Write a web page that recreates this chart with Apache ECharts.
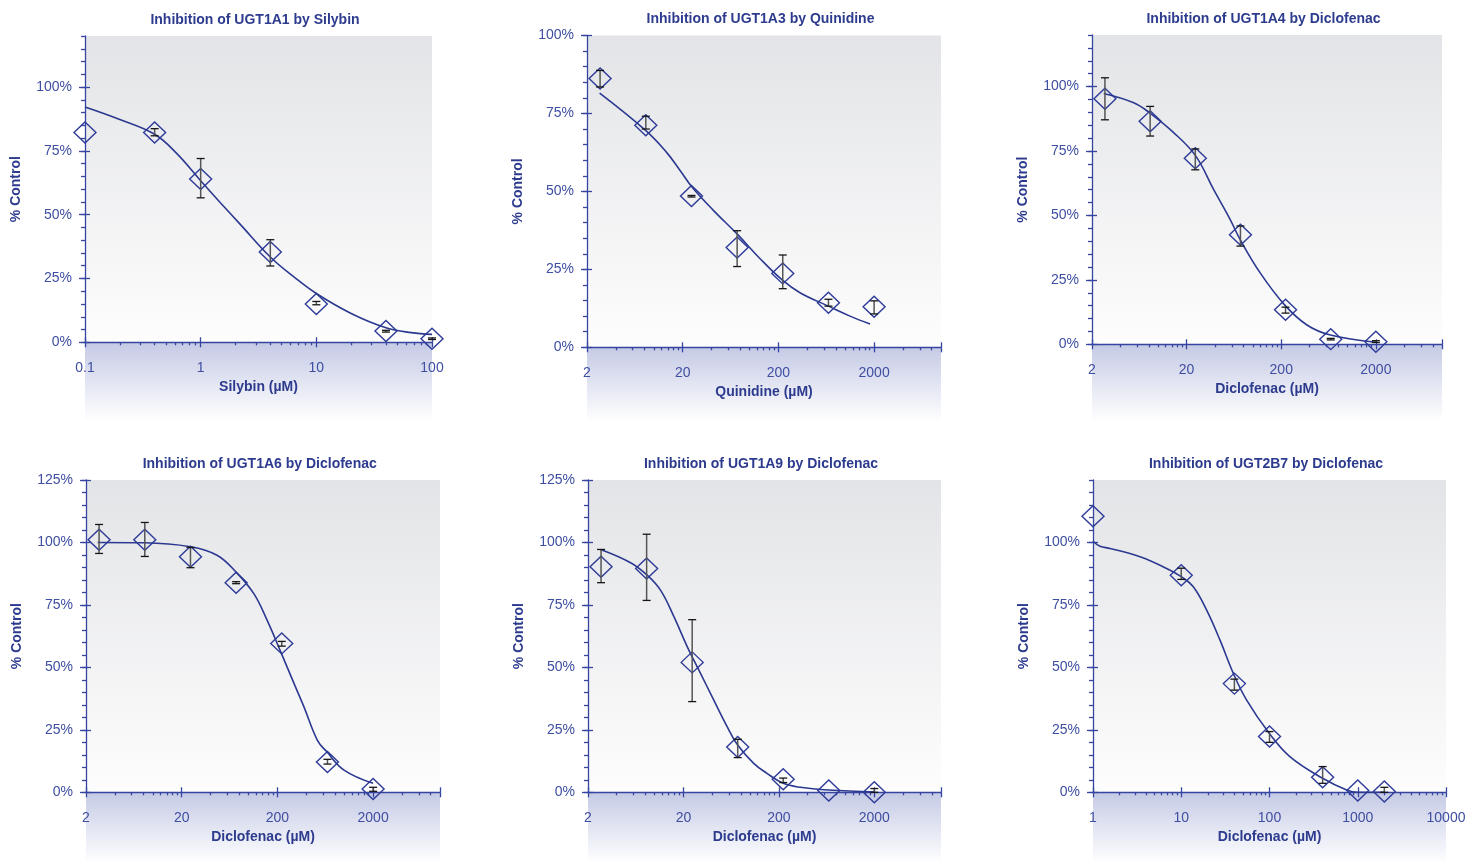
<!DOCTYPE html>
<html><head><meta charset="utf-8">
<script src="https://cdn.jsdelivr.net/npm/echarts@6/dist/echarts.min.js"></script>
<style>html,body{margin:0;padding:0;background:#fff}#c{width:1482px;height:863px}</style>
</head><body><div id="c"></div>
<script>
// ---------------- DATA ----------------
const titles = ['Inhibition of UGT1A1 by Silybin','Inhibition of UGT1A3 by Quinidine','Inhibition of UGT1A4 by Diclofenac',
                'Inhibition of UGT1A6 by Diclofenac','Inhibition of UGT1A9 by Diclofenac','Inhibition of UGT2B7 by Diclofenac'];
const xNames = ['Silybin (µM)','Quinidine (µM)','Diclofenac (µM)','Diclofenac (µM)','Diclofenac (µM)','Diclofenac (µM)'];
const yName = '% Control';

// UGT1A1 / Silybin
const conc1 = [0.1, 0.4, 1, 4, 10, 40, 100];
const mean1 = [82.2, 82.2, 64.0, 35.4, 15.0, 4.4, 1.4];
const lo1   = [null, 80.9, 56.6, 29.9, 14.7, 4.0, 1.1];
const hi1   = [null, 83.7, 72.0, 40.2, 16.0, 4.7, 1.7];
const curveX1 = [0.1, 0.2, 0.4, 0.62, 1, 1.48, 2.2, 4, 6.4, 10, 20, 40, 66, 100];
const curveY1 = [92.2, 87.3, 81.5, 74.0, 63.3, 54.7, 46.2, 33.4, 25.6, 19.1, 11.3, 5.7, 3.8, 3.1];

// UGT1A3 / Quinidine
const conc2 = [2.74, 8.23, 24.7, 74.1, 222, 667, 2000];
const mean2 = [86.2, 71.2, 48.5, 32.0, 23.7, 14.3, 13.0];
const lo2   = [83.5, 70.0, 48.2, 25.9, 18.8, 13.2, 10.7];
const hi2   = [88.8, 74.1, 48.7, 37.4, 29.6, 15.4, 14.9];
const curveX2 = [2.71, 8.3, 13.5, 18.7, 25, 41.6, 74.8, 128, 219, 336, 665, 1120, 1815];
const curveY2 = [81.5, 69.4, 62.6, 56.8, 51.4, 44.0, 36.2, 28.5, 21.6, 17.5, 13.2, 10.0, 7.5];

// UGT1A4 / Diclofenac
const conc3 = [2.74, 8.23, 24.7, 74.1, 222, 667, 2000];
const mean3 = [95.3, 86.5, 72.2, 42.5, 13.4, 2.0, 1.0];
const lo3   = [87.1, 80.8, 67.7, 38.1, 12.1, 1.7, 0.7];
const hi3   = [103.4, 92.3, 75.8, 45.9, 14.4, 2.3, 1.4];
const curveX3 = [2.66, 5.44, 7.94, 14.4, 24.8, 38.4, 57.6, 73.4, 119.8, 217, 374, 661, 2000];
const curveY3 = [97.3, 93.8, 90.1, 82.3, 73.2, 60.2, 48.5, 40.7, 27.7, 15.3, 7.5, 3.6, 0.8];

// UGT1A6 / Diclofenac
const conc4 = [2.74, 8.23, 24.7, 74.1, 222, 667, 2000];
const mean4 = [101.1, 101.1, 94.3, 83.9, 59.6, 12.1, 1.3];
const lo4   = [95.6, 94.4, 89.9, 83.5, 58.5, 11.3, 0.4];
const hi4   = [107.2, 108.0, 98.0, 84.3, 60.4, 13.2, 2.0];
const curveX4 = [2.65, 8.1, 24.8, 46.8, 73.3, 113, 156, 220, 298, 378, 522, 654, 994, 2000];
const curveY4 = [100, 99.9, 98.3, 94.9, 88.3, 79.6, 68.9, 55.6, 43.6, 34.3, 20.9, 16.3, 8.9, 3.6];

// UGT1A9 / Diclofenac
const conc5 = [2.74, 8.23, 24.7, 74.1, 222, 667, 2000];
const mean5 = [90.3, 89.6, 52.0, 18.1, 5.2, 0.7, 0.0];
const lo5   = [83.9, 76.8, 36.3, 13.9, 3.9, null, 0.0];
const hi5   = [97.2, 103.3, 69.1, 21.2, 5.7, null, 1.5];
const curveX5 = [2.71, 5.59, 8.34, 11.5, 15.9, 21.9, 30.2, 41.6, 57.4, 74, 109, 150, 222, 336, 665, 2000];
const curveY5 = [97.2, 91.9, 86.9, 80.9, 70.3, 58.3, 47.6, 36.9, 26.3, 18.9, 11.6, 7.6, 3.6, 2.0, 0.9, 0.1];

// UGT2B7 / Diclofenac
const conc6 = [1, 10, 40, 100, 400, 1000, 2000];
const mean6 = [110.5, 86.9, 43.5, 22.3, 6.0, 0.7, 0.3];
const lo6   = [null, 85.2, 40.9, 20.0, 3.6, null, 0.0];
const hi6   = [null, 89.7, 45.3, 24.3, 10.3, null, 2.0];
const curveX6 = [1, 1.2, 1.56, 3.41, 6.84, 10, 13.7, 19.4, 27.5, 38.9, 55.1, 99.3, 170, 400, 749, 1000, 2000];
const curveY6 = [100.5, 98.5, 97.6, 94.3, 89.6, 86.3, 82.3, 72.9, 60.9, 47.6, 36.9, 23.6, 14.3, 5.6, 0.9, 0.0, 0.0];

// tick values / labels
const xMajorDec1 = [0.1, 1, 10, 100];
const xMinorDec1 = [0.2,0.3,0.4,0.5,0.6,0.7,0.8,0.9,2,3,4,5,6,7,8,9,20,30,40,50,60,70,80,90];
const xMajor2k = [2, 20, 200, 2000, 10000];
const xLabels2k = [2, 20, 200, 2000];
const xMinor2k = [4,6,8,10,12,14,16,18,40,60,80,100,120,140,160,180,400,600,800,1000,1200,1400,1600,1800,4000,6000,8000];
const xMajorDec2 = [1, 10, 100, 1000, 10000];
const xMinorDec2 = [2,3,4,5,6,7,8,9,20,30,40,50,60,70,80,90,200,300,400,500,600,700,800,900,2000,3000,4000,5000,6000,7000,8000,9000];
const yTicks100 = [0, 25, 50, 75, 100];
const yTicks125 = [0, 25, 50, 75, 100, 125];

// ---------------- LAYOUT / STYLE ----------------
const FONT = '"Liberation Sans", Arial, Helvetica, sans-serif';
const AX = '#3646a0', LAB = '#3e4ea1', TTL = '#2d3b8e', CURVE = '#2b3990', DIA = '#2e3c98';

const panels = [
  {left:85,  top:36,   width:347, height:306.3, bandBottom:421, tx:255,   ty:20,  xMin:0.1, xMax:100,   yMax:120, major:xMajorDec1, labels:xMajorDec1, minor:xMinorDec1, yt:yTicks100,
   conc:conc1, mean:mean1, lo:lo1, hi:hi1, cx:curveX1, cy:curveY1},
  {left:587, top:35.5, width:354, height:311.8, bandBottom:421, tx:760.5, ty:19,  xMin:2,   xMax:10000, yMax:100, major:xMajor2k, labels:xLabels2k, minor:xMinor2k, yt:yTicks100,
   conc:conc2, mean:mean2, lo:lo2, hi:hi2, cx:curveX2, cy:curveY2},
  {left:1092,top:35,   width:350, height:309.3, bandBottom:421, tx:1263.5,ty:19,  xMin:2,   xMax:10000, yMax:120, major:xMajor2k, labels:xLabels2k, minor:xMinor2k, yt:yTicks100,
   conc:conc3, mean:mean3, lo:lo3, hi:hi3, cx:curveX3, cy:curveY3},
  {left:86,  top:480,  width:354, height:312.3, bandBottom:863, tx:259.7, ty:464, xMin:2,   xMax:10000, yMax:125, major:xMajor2k, labels:xLabels2k, minor:xMinor2k, yt:yTicks125,
   conc:conc4, mean:mean4, lo:lo4, hi:hi4, cx:curveX4, cy:curveY4},
  {left:588, top:480,  width:353, height:312.3, bandBottom:863, tx:761,   ty:464, xMin:2,   xMax:10000, yMax:125, major:xMajor2k, labels:xLabels2k, minor:xMinor2k, yt:yTicks125,
   conc:conc5, mean:mean5, lo:lo5, hi:hi5, cx:curveX5, cy:curveY5},
  {left:1093,top:480,  width:353, height:312.3, bandBottom:863, tx:1266,  ty:464, xMin:1,   xMax:10000, yMax:125, major:xMajorDec2, labels:xMajorDec2, minor:xMinorDec2, yt:yTicks100,
   conc:conc6, mean:mean6, lo:lo6, hi:hi6, cx:curveX6, cy:curveY6}
];

const lineStyle = {color: AX, width: 1.3};
const nameStyle = {color: TTL, fontSize: 14, fontWeight: 'bold', fontFamily: FONT};
const labelStyle = {color: LAB, fontSize: 14, fontFamily: FONT};

const option = {
  animation: false,
  backgroundColor: '#ffffff',
  title: [], grid: [], xAxis: [], yAxis: [], series: []
};

function renderErr(params, api) {
  const x = api.value(0), lo = api.value(1), hi = api.value(2);
  const a = api.coord([x, lo]), b = api.coord([x, hi]);
  const w = 4;
  return {type: 'group', children: [
    {type: 'line', shape: {x1: a[0], y1: a[1], x2: b[0], y2: b[1]}, style: {stroke: '#555', lineWidth: 1.5}},
    {type: 'line', shape: {x1: b[0] - w, y1: b[1], x2: b[0] + w, y2: b[1]}, style: {stroke: '#151515', lineWidth: 1.3}},
    {type: 'line', shape: {x1: a[0] - w, y1: a[1], x2: a[0] + w, y2: a[1]}, style: {stroke: '#151515', lineWidth: 1.3}}
  ]};
}

panels.forEach((p, i) => {
  option.title.push({
    text: titles[i], left: p.tx, top: p.ty, textAlign: 'center', textVerticalAlign: 'middle', padding: 0,
    textStyle: {color: TTL, fontSize: 14, fontWeight: 'bold', fontFamily: FONT}
  });
  // plot grid
  option.grid.push({
    left: p.left, top: p.top, width: p.width, height: p.height, show: true, borderWidth: 0,
    outerBoundsMode: 'none', containLabel: false,
    backgroundColor: {type: 'linear', x: 0, y: 0, x2: 0, y2: 1,
      colorStops: [{offset: 0, color: '#e3e4e7'}, {offset: 1, color: '#fdfdfd'}]}
  });
  const g = i;
  const base = {gridIndex: g, type: 'log', logBase: 10, min: p.xMin, max: p.xMax, position: 'bottom',
    splitLine: {show: false}, minorTick: {show: false}, minorSplitLine: {show: false}};
  const xi = option.xAxis.length;
  option.xAxis.push(Object.assign({}, base, {
    axisLine: {show: true, onZero: false, lineStyle: lineStyle},
    axisTick: {show: true, customValues: p.major, length: 5, inside: false, lineStyle: lineStyle},
    axisLabel: Object.assign({show: true, customValues: p.labels, margin: 19, formatter: v => String(v)}, labelStyle),
    name: xNames[i], nameLocation: 'middle', nameGap: 38, nameTextStyle: nameStyle, nameMoveOverlap: false
  }));
  option.xAxis.push(Object.assign({}, base, {
    axisLine: {show: false}, axisLabel: {show: false},
    axisTick: {show: true, customValues: p.major, length: 5, inside: true, lineStyle: lineStyle}
  }));
  option.xAxis.push(Object.assign({}, base, {
    axisLine: {show: false}, axisLabel: {show: false},
    axisTick: {show: true, customValues: p.minor, length: 3, inside: false, lineStyle: lineStyle}
  }));
  const ybase = {gridIndex: g, type: 'value', min: 0, max: p.yMax, position: 'left', splitLine: {show: false}};
  const yi = option.yAxis.length;
  option.yAxis.push(Object.assign({}, ybase, {
    interval: 5,
    axisLine: {show: true, onZero: false, lineStyle: lineStyle},
    axisTick: {show: true, length: 4, inside: false, lineStyle: lineStyle},
    axisLabel: {show: false},
    name: yName, nameLocation: 'middle', nameGap: 62, nameRotate: 90, nameTextStyle: nameStyle, nameMoveOverlap: false
  }));
  option.yAxis.push(Object.assign({}, ybase, {
    axisLine: {show: false},
    axisTick: {show: true, customValues: p.yt, length: 6, inside: false, lineStyle: lineStyle},
    axisLabel: Object.assign({show: true, customValues: p.yt, margin: 13, formatter: '{value}%'}, labelStyle)
  }));
  option.yAxis.push(Object.assign({}, ybase, {
    axisLine: {show: false}, axisLabel: {show: false},
    axisTick: {show: true, customValues: p.yt, length: 5, inside: true, lineStyle: lineStyle}
  }));

  option.series.push({
    type: 'line', xAxisIndex: xi, yAxisIndex: yi, smooth: 0.4, showSymbol: false, z: 4,
    lineStyle: {color: CURVE, width: 1.6}, itemStyle: {color: CURVE},
    data: p.cx.map((x, k) => [x, p.cy[k]])
  });
  option.series.push({
    type: 'scatter', xAxisIndex: xi, yAxisIndex: yi, symbol: 'diamond', symbolSize: [22, 21], z: 3,
    itemStyle: {color: 'rgba(255,255,255,0)', borderColor: DIA, borderWidth: 1.4, opacity: 1},
    data: p.conc.map((x, k) => [x, p.mean[k]])
  });
  option.series.push({
    type: 'custom', xAxisIndex: xi, yAxisIndex: yi, z: 5, renderItem: renderErr,
    encode: {x: 0, y: [1, 2]},
    data: p.conc.map((x, k) => [x, p.lo[k], p.hi[k]]).filter(r => r[1] != null)
  });
});

// bands below the x axes
panels.forEach(p => {
  const t = p.top + p.height;
  option.grid.push({
    left: p.left, top: t, width: p.width, height: p.bandBottom - t, show: true, borderWidth: 0, z: -1,
    outerBoundsMode: 'none',
    backgroundColor: {type: 'linear', x: 0, y: 0, x2: 0, y2: 1,
      colorStops: [{offset: 0, color: '#c5cae5'}, {offset: 1, color: '#ffffff'}]}
  });
});

const chart = echarts.init(document.getElementById('c'), null, {renderer: 'canvas'});
chart.setOption(option);
</script>
</body></html>
